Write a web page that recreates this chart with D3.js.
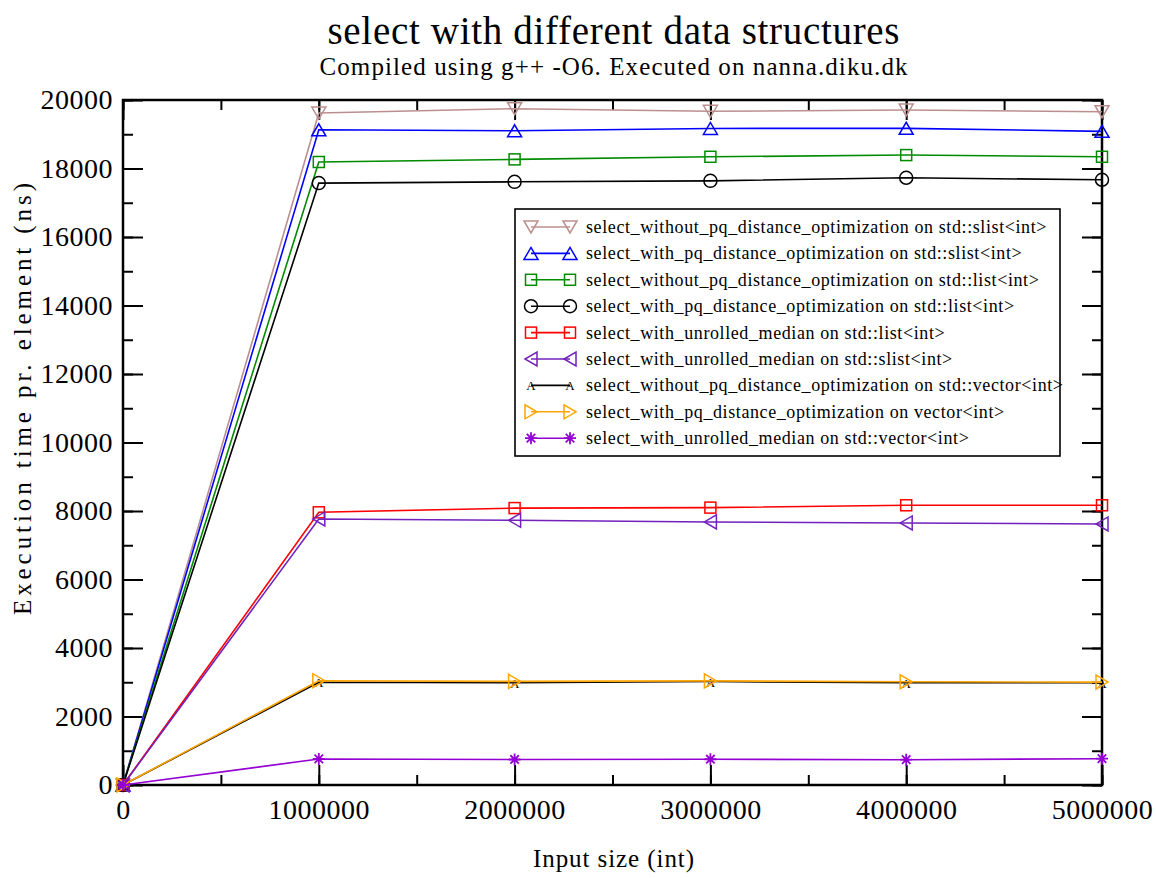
<!DOCTYPE html>
<html>
<head>
<meta charset="utf-8">
<script src="https://cdn.jsdelivr.net/npm/d3@7"></script>
<style>
  html, body { margin: 0; padding: 0; background: #fff; }
  text { font-family: "Liberation Serif", "DejaVu Serif", serif; fill: #000; }
</style>
</head>
<body>
<svg id="chart" width="1156" height="878"></svg>
<script>
// Input sizes measured
const inputSizes = [0, 1000000, 2000000, 3000000, 4000000, 5000000];

// Execution time per element (ns) for each variant
const slistWithoutPq   = [0, 19620, 19746, 19670, 19708, 19658];
const slistWithPq      = [0, 19130, 19100, 19170, 19172, 19085];
const listWithoutPq    = [0, 18190, 18266, 18342, 18392, 18342];
const listWithPq       = [0, 17573, 17611, 17640, 17729, 17670];
const listUnrolled     = [0, 7962, 8085, 8099, 8167, 8167];
const slistUnrolled    = [0, 7768, 7728, 7681, 7651, 7622];
const vectorWithoutPq  = [0, 3000, 2990, 3020, 2990, 2985];
const vectorWithPq     = [0, 3045, 3025, 3040, 3015, 3005];
const vectorUnrolled   = [0, 760, 745, 752, 738, 768];

const seriesNames = [
  "select_without_pq_distance_optimization on std::slist<int>",
  "select_with_pq_distance_optimization on std::slist<int>",
  "select_without_pq_distance_optimization on std::list<int>",
  "select_with_pq_distance_optimization on std::list<int>",
  "select_with_unrolled_median on std::list<int>",
  "select_with_unrolled_median on std::slist<int>",
  "select_without_pq_distance_optimization on std::vector<int>",
  "select_with_pq_distance_optimization on vector<int>",
  "select_with_unrolled_median on std::vector<int>"
];
const seriesValues = [slistWithoutPq, slistWithPq, listWithoutPq, listWithPq,
  listUnrolled, slistUnrolled, vectorWithoutPq, vectorWithPq, vectorUnrolled];
const seriesColors = ["rgb(188,143,143)", "#0000ff", "rgb(0,139,0)", "#000000",
  "#ff0000", "rgb(114,33,188)", "#000000", "rgb(255,165,0)", "rgb(148,0,211)"];
const seriesSymbols = ["triDown", "triUp", "square", "circle", "square",
  "triLeft", "charA", "triRight", "star"];

const xTicks = [0, 1000000, 2000000, 3000000, 4000000, 5000000];
const yTicks = [0, 2000, 4000, 6000, 8000, 10000, 12000, 14000, 16000, 18000, 20000];

const svg = d3.select("#chart");
const plotLeft = 123, plotRight = 1102, plotTop = 100, plotBottom = 785;

const x = d3.scaleLinear().domain([0, 5000000]).range([plotLeft, plotRight]);
const y = d3.scaleLinear().domain([0, 20000]).range([plotBottom, plotTop]);
const midX = (plotLeft + plotRight) / 2 + 1;

// Titles
svg.append("text").attr("x", midX).attr("y", 44)
  .attr("text-anchor", "middle").style("font-size", "39px")
  .attr("textLength", 572).attr("lengthAdjust", "spacing")
  .text("select with different data structures");
svg.append("text").attr("x", midX).attr("y", 75)
  .attr("text-anchor", "middle").style("font-size", "25px")
  .attr("textLength", 588).attr("lengthAdjust", "spacing")
  .text("Compiled using g++ -O6. Executed on nanna.diku.dk");

// Axis labels
svg.append("text").attr("x", midX).attr("y", 867)
  .attr("text-anchor", "middle").style("font-size", "25px")
  .attr("textLength", 161).attr("lengthAdjust", "spacing")
  .text("Input size (int)");
svg.append("text")
  .attr("transform", "translate(31,399) rotate(-90)")
  .attr("text-anchor", "middle").style("font-size", "25px")
  .attr("textLength", 432).attr("lengthAdjust", "spacing")
  .text("Execution time pr. element (ns)");

// Axes with inward ticks on all four sides
const minorX = d3.range(0, 5000001, 500000);
const minorY = d3.range(0, 20001, 1000);

function styleAxis(g) {
  g.selectAll("path.domain").remove();
  g.selectAll("line").attr("stroke", "#000").attr("stroke-width", 2);
  g.selectAll("text").style("font-size", "28px")
    .style("letter-spacing", "0.5px")
    .style("font-family", "'Liberation Serif', serif");
}

const gx = svg.append("g").attr("transform", `translate(0,${plotBottom})`)
  .call(d3.axisBottom(x).tickValues(xTicks).tickFormat(d3.format("d"))
    .tickSizeInner(-20).tickSizeOuter(0).tickPadding(9));
styleAxis(gx);
gx.selectAll("text").attr("dy", "0.9em");

svg.append("g").attr("transform", `translate(0,${plotBottom})`)
  .call(d3.axisBottom(x).tickValues(minorX).tickFormat("").tickSize(-10).tickSizeOuter(0))
  .call(styleAxis);

svg.append("g").attr("transform", `translate(0,${plotTop})`)
  .call(d3.axisTop(x).tickValues(xTicks).tickFormat("").tickSize(-20).tickSizeOuter(0))
  .call(styleAxis);
svg.append("g").attr("transform", `translate(0,${plotTop})`)
  .call(d3.axisTop(x).tickValues(minorX).tickFormat("").tickSize(-10).tickSizeOuter(0))
  .call(styleAxis);

const gy = svg.append("g").attr("transform", `translate(${plotLeft},0)`)
  .call(d3.axisLeft(y).tickValues(yTicks).tickFormat(d3.format("d"))
    .tickSizeInner(-20).tickSizeOuter(0).tickPadding(10));
styleAxis(gy);
svg.append("g").attr("transform", `translate(${plotLeft},0)`)
  .call(d3.axisLeft(y).tickValues(minorY).tickFormat("").tickSize(-10).tickSizeOuter(0))
  .call(styleAxis);

svg.append("g").attr("transform", `translate(${plotRight},0)`)
  .call(d3.axisRight(y).tickValues(yTicks).tickFormat("").tickSize(-20).tickSizeOuter(0))
  .call(styleAxis);
svg.append("g").attr("transform", `translate(${plotRight},0)`)
  .call(d3.axisRight(y).tickValues(minorY).tickFormat("").tickSize(-10).tickSizeOuter(0))
  .call(styleAxis);

// Frame
svg.append("rect").attr("x", plotLeft).attr("y", plotTop)
  .attr("width", plotRight - plotLeft).attr("height", plotBottom - plotTop)
  .attr("fill", "none").attr("stroke", "#000").attr("stroke-width", 2.5);

// Marker drawing
function drawSymbol(g, type, cx, cy, color) {
  const sw = 1.5;
  if (type === "triDown") {
    g.append("path").attr("d", `M${cx - 7},${cy - 6}L${cx + 7},${cy - 6}L${cx},${cy + 6}Z`)
      .attr("fill", "none").attr("stroke", color).attr("stroke-width", sw);
  } else if (type === "triUp") {
    g.append("path").attr("d", `M${cx - 7},${cy + 6}L${cx + 7},${cy + 6}L${cx},${cy - 6}Z`)
      .attr("fill", "none").attr("stroke", color).attr("stroke-width", sw);
  } else if (type === "triLeft") {
    g.append("path").attr("d", `M${cx + 6},${cy - 7}L${cx + 6},${cy + 7}L${cx - 6},${cy}Z`)
      .attr("fill", "none").attr("stroke", color).attr("stroke-width", sw);
  } else if (type === "triRight") {
    g.append("path").attr("d", `M${cx - 6},${cy - 7}L${cx - 6},${cy + 7}L${cx + 6},${cy}Z`)
      .attr("fill", "none").attr("stroke", color).attr("stroke-width", sw);
  } else if (type === "square") {
    g.append("rect").attr("x", cx - 5.5).attr("y", cy - 5.5).attr("width", 11).attr("height", 11)
      .attr("fill", "none").attr("stroke", color).attr("stroke-width", sw);
  } else if (type === "circle") {
    g.append("circle").attr("cx", cx).attr("cy", cy).attr("r", 6.5)
      .attr("fill", "none").attr("stroke", color).attr("stroke-width", sw);
  } else if (type === "charA") {
    g.append("text").attr("x", cx).attr("y", cy + 5).attr("text-anchor", "middle")
      .style("font-size", "13px").style("fill", color).text("A");
  } else if (type === "star") {
    const p = d3.path();
    for (let k = 0; k < 4; k++) {
      const a = k * Math.PI / 4;
      p.moveTo(cx - 6 * Math.cos(a), cy - 6 * Math.sin(a));
      p.lineTo(cx + 6 * Math.cos(a), cy + 6 * Math.sin(a));
    }
    g.append("path").attr("d", p.toString()).attr("fill", "none")
      .attr("stroke", color).attr("stroke-width", 1.8);
  }
}

// Series lines and markers
const line = d3.line().x((d, i) => x(inputSizes[i])).y(d => y(d));
seriesValues.forEach((vals, s) => {
  const g = svg.append("g");
  g.append("path").datum(vals).attr("d", line)
    .attr("fill", "none").attr("stroke", seriesColors[s]).attr("stroke-width", 1.6);
  vals.forEach((v, i) => drawSymbol(g, seriesSymbols[s], x(inputSizes[i]), y(v), seriesColors[s]));
});

// Legend
const lgX = 515, lgY = 209, lgW = 545, lgH = 247, rowH = 26.4;
svg.append("rect").attr("x", lgX).attr("y", lgY).attr("width", lgW).attr("height", lgH)
  .attr("fill", "#fff").attr("stroke", "#000").attr("stroke-width", 1.6);
seriesNames.forEach((name, s) => {
  const cy = lgY + 18 + s * rowH;
  const g = svg.append("g");
  g.append("line").attr("x1", 531).attr("x2", 570).attr("y1", cy).attr("y2", cy)
    .attr("stroke", seriesColors[s]).attr("stroke-width", 1.6);
  drawSymbol(g, seriesSymbols[s], 531, cy, seriesColors[s]);
  drawSymbol(g, seriesSymbols[s], 570, cy, seriesColors[s]);
  g.append("text").attr("x", 586).attr("y", cy + 6).style("font-size", "18px")
    .style("letter-spacing", "0.6px").text(name);
});
</script>
</body>
</html>
